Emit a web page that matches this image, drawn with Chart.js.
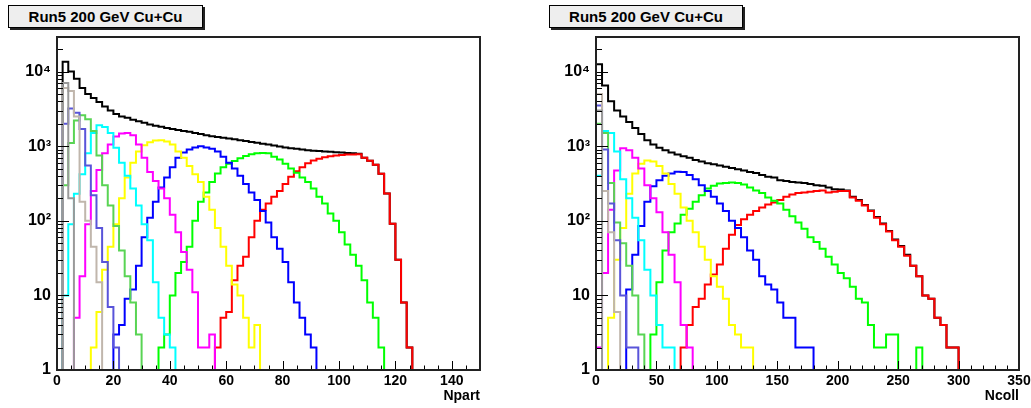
<!DOCTYPE html>
<html>
<head>
<meta charset="utf-8">
<script src="https://cdn.jsdelivr.net/npm/chart.js@4.4.1/dist/chart.umd.min.js"></script>
<style>
  html, body { margin: 0; padding: 0; background: #fff; }
  body { width: 1031px; height: 408px; position: relative; overflow: hidden; font-family: "Liberation Sans", Arial, sans-serif; }
  canvas { position: absolute; top: 0; }
  #npartCanvas { left: 0; }
  #ncollCanvas { left: 515px; }
  .title-box {
    position: absolute; top: 5px; height: 21px;
    background: #eeeeee; border: 1px solid #000; box-shadow: 2px 2px 0 #222;
    font-weight: bold; font-size: 15px; line-height: 21px; text-align: center; color: #000;
  }
</style>
</head>
<body>
<div class="title-box" style="left:8px;width:193px;">Run5 200 GeV Cu+Cu</div>
<div class="title-box" style="left:549px;width:192px;">Run5 200 GeV Cu+Cu</div>
<canvas id="npartCanvas" width="515" height="408"></canvas>
<canvas id="ncollCanvas" width="516" height="408"></canvas>
<script>
// ---- Npart histograms (bin width 2, first bin low edge given by *From) ----
const npartBin = 2;
const npartTotalFrom = 2;
const npartTotal = [13500, 10000, 8000, 6000, 5000, 4400, 3900, 3400, 3000, 2700,
  2500, 2400, 2250, 2150, 2050, 1950, 1880, 1820, 1750, 1700,
  1650, 1600, 1560, 1500, 1450, 1400, 1360, 1330, 1300, 1270,
  1240, 1200, 1170, 1140, 1110, 1080, 1050, 1020, 990, 960,
  940, 920, 900, 880, 870, 860, 850, 840, 830, 820,
  810, 800, 790, 700, 635, 565, 425, 232, 91, 30, 8, 2];
const npartRedFrom = 56;
const npartRed = [2, 5, 6, 16, 25, 33, 60, 100, 140, 170, 210, 250, 310, 390, 460, 520, 590, 640,
  680, 710, 730, 750, 760, 770, 775, 780, 700, 635, 565, 425, 232, 91, 30, 8, 2];
const npartGreenFrom = 36;
const npartGreen = [2, 3, 10, 20, 28, 45, 100, 180, 240, 330, 430, 520, 580, 630, 690, 740, 780, 800,
  810, 800, 720, 660, 580, 500, 440, 380, 330, 270, 210, 170, 125, 100, 70, 48, 35, 25, 16, 8, 5, 2];
const npartBlueFrom = 20;
const npartBlue = [3, 4, 9, 12, 25, 60, 110, 180, 280, 380, 520, 700, 820, 900, 960, 1000, 960, 920,
  850, 720, 600, 500, 400, 310, 240, 190, 135, 95, 60, 42, 28, 15, 8, 5, 3, 2];
const npartYellowFrom = 12;
const npartYellow = [2, 6, 22, 45, 90, 200, 380, 600, 850, 1030, 1130, 1190, 1200, 1150, 1050, 850,
  700, 540, 420, 330, 210, 140, 80, 45, 25, 14, 10, 5, 2, 4];
const npartMagentaFrom = 6;
const npartMagenta = [5, 18, 90, 250, 480, 800, 1050, 1350, 1480, 1500, 1400, 1050, 700, 450, 340,
  270, 200, 120, 70, 38, 22, 11, 2, 2, 3];
const npartCyanFrom = 2;
const npartCyan = [10, 90, 230, 420, 800, 1500, 1900, 1800, 1500, 950, 600, 400, 270, 160, 90, 55, 15, 5, 3, 2];
const npartGreen8From = 2;
const npartGreen8 = [300, 1100, 2200, 2600, 2300, 1600, 750, 300, 160, 85, 40, 18, 8, 3];
const npartSlateFrom = 2;
const npartSlate = [2000, 3200, 2800, 1700, 550, 220, 80, 28, 7, 2];
const npartTanFrom = 2;
const npartTan = [6000, 5500, 2500, 180, 100, 45, 15];
const npartGreyFrom = 2;
const npartGrey = [7000, 200];

// ---- Ncoll histograms (bin width 5) ----
const ncollBin = 5;
const ncollTotalFrom = 0;
const ncollTotal = [12500, 6500, 4000, 3000, 2500, 2100, 1750, 1450, 1200, 1050,
  950, 880, 820, 770, 730, 700, 650, 620, 590, 570,
  550, 530, 510, 490, 470, 450, 435, 410, 390, 380,
  350, 340, 330, 325, 320, 310, 300, 295, 280, 265,
  262, 255, 210, 190, 163, 137, 112, 92, 73, 56,
  46, 35, 25, 18, 10, 9, 5, 4, 2, 2];
const ncollRedFrom = 70;
const ncollRed = [2, 4, 7, 9, 14, 19, 26, 42, 65, 88, 105, 120, 135, 150, 165, 175, 190, 210, 225,
  235, 240, 245, 250, 255, 240, 245, 250, 250, 205, 185, 160, 135, 110, 90, 72, 55, 45, 34, 25, 18,
  10, 9, 5, 4, 2, 2];
const ncollGreenFrom = 45;
const ncollGreen = [3, 15, 40, 70, 92, 120, 145, 180, 220, 270, 295, 315, 320, 325, 320, 305, 280,
  255, 235, 205, 185, 170, 140, 115, 95, 78, 60, 52, 42, 33, 26, 20, 17, 13, 9, 8, 4, 2, 2, 3, 3,
  1, 1, 1, 2];
const ncollBlueFrom = 25;
const ncollBlue = [12, 35, 85, 180, 290, 350, 400, 430, 455, 450, 410, 360, 300, 250, 210, 170, 135,
  100, 80, 60, 40, 30, 18, 14, 12, 8, 5, 5, 2, 2, 2];
const ncollYellowFrom = 10;
const ncollYellow = [5, 30, 80, 230, 430, 580, 640, 620, 540, 430, 310, 230, 150, 100, 70, 45, 30,
  18, 13, 9, 4, 3, 2, 2];
const ncollMagentaFrom = 0;
const ncollMagenta = [2, 20, 140, 470, 940, 880, 700, 500, 300, 200, 130, 70, 35, 15, 4, 2];
const ncollCyanFrom = 0;
const ncollCyan = [400, 1600, 1500, 850, 360, 200, 110, 55, 22, 10, 4, 2, 2];
const ncollGreen8From = 0;
const ncollGreen8 = [2000, 1500, 320, 95, 50, 25, 10, 3];
const ncollSlateFrom = 0;
const ncollSlate = [3500, 900, 170, 55, 10, 2, 2];
const ncollTanFrom = 0;
const ncollTan = [5000, 250, 70, 6];
const ncollGreyFrom = 0;
const ncollGrey = [3000];

// ---- axis ticks ----
const npartTickValues = [0, 5, 10, 15, 20, 25, 30, 35, 40, 45, 50, 55, 60, 65, 70, 75, 80, 85, 90, 95,
  100, 105, 110, 115, 120, 125, 130, 135, 140, 145, 150];
const npartTickLabels = [0, 20, 40, 60, 80, 100, 120, 140];
const ncollTickValues = [0, 10, 20, 30, 40, 50, 60, 70, 80, 90, 100, 110, 120, 130, 140, 150, 160, 170,
  180, 190, 200, 210, 220, 230, 240, 250, 260, 270, 280, 290, 300, 310, 320, 330, 340, 350];
const ncollTickLabels = [0, 50, 100, 150, 200, 250, 300, 350];
const logTickValues = [1, 2, 3, 4, 5, 6, 7, 8, 9, 10, 20, 30, 40, 50, 60, 70, 80, 90,
  100, 200, 300, 400, 500, 600, 700, 800, 900, 1000, 2000, 3000, 4000, 5000, 6000, 7000, 8000, 9000,
  10000, 20000];
const logTickLabels = { 1: '1', 10: '10', 100: '10\u00B2', 1000: '10\u00B3', 10000: '10\u2074' };
const yMax = 29000;

const histColors = ['#999999', '#c0b6ac', '#5954d9', '#59d454', '#00ffff', '#ff00ff',
  '#ffff00', '#0000ff', '#00ff00', '#ff0000', '#000000'];

function histPoints(from, width, counts, xmin, xmax) {
  const pts = [{ x: xmin, y: 1 }];
  counts.forEach((c, i) => pts.push({ x: from + i * width, y: c }));
  pts.push({ x: from + counts.length * width, y: 1 });
  pts.push({ x: xmax, y: 1 });
  return pts;
}

const rootFrame = {
  id: 'rootFrame',
  afterDatasetsDraw(chart) {
    const { ctx, chartArea: a, scales: { x, y } } = chart;
    ctx.save();
    ctx.strokeStyle = '#000';
    ctx.lineWidth = 1;
    ctx.beginPath();
    x.ticks.forEach(t => {
      const px = Math.round(x.getPixelForValue(t.value)) + 0.5;
      const len = t.label ? 9 : 4.5;
      ctx.moveTo(px, a.bottom);
      ctx.lineTo(px, a.bottom - len);
    });
    y.ticks.forEach(t => {
      const py = Math.round(y.getPixelForValue(t.value)) + 0.5;
      const len = logTickLabels[t.value] ? 12 : 6;
      ctx.moveTo(a.left, py);
      ctx.lineTo(a.left + len, py);
    });
    ctx.stroke();
    ctx.lineWidth = 2;
    ctx.strokeStyle = '#222';
    ctx.strokeRect(a.left, a.top, a.right - a.left, a.bottom - a.top);
    ctx.restore();
  }
};

function makeChart(id, cfg) {
  const datasets = cfg.hists.map((h, i) => ({
    data: histPoints(h[0], cfg.bin, h[1], cfg.xmin, cfg.xmax),
    borderColor: histColors[i],
    borderWidth: 2,
    pointRadius: 0,
    fill: false,
    stepped: true,
    tension: 0,
    clip: false
  }));
  const font = { family: '"Liberation Sans", Arial, sans-serif', size: 14, weight: 'bold' };
  const yFont = { family: '"Liberation Sans", Arial, sans-serif', size: 16, weight: 'bold' };
  return new Chart(document.getElementById(id), {
    type: 'line',
    data: { datasets },
    options: {
      responsive: false,
      animation: false,
      devicePixelRatio: 1,
      events: [],
      layout: { autoPadding: false, padding: { left: 0, right: cfg.padRight, top: 37, bottom: 0 } },
      plugins: { legend: { display: false }, tooltip: { enabled: false } },
      scales: {
        x: {
          type: 'linear', min: cfg.xmin, max: cfg.xmax,
          grid: { display: false, drawTicks: false },
          border: { display: false },
          ticks: {
            autoSkip: false, maxRotation: 0, padding: 3, color: '#000', font,
            callback: v => cfg.tickLabels.includes(v) ? String(v) : ''
          },
          afterBuildTicks: s => { s.ticks = cfg.tickValues.map(v => ({ value: v })); },
          afterFit: s => { s.height = 38; s.paddingLeft = 0; s.paddingRight = 0; },
          title: { display: true, text: cfg.title, align: 'end', color: '#000', font, padding: { top: 0, bottom: 3 } }
        },
        y: {
          type: 'logarithmic', min: 1, max: yMax,
          grid: { display: false, drawTicks: false },
          border: { display: false },
          ticks: {
            autoSkip: false, padding: 6, color: '#000', font: yFont,
            callback: v => logTickLabels[v] || ''
          },
          afterBuildTicks: s => { s.ticks = logTickValues.map(v => ({ value: v })); },
          afterFit: s => { s.width = cfg.yWidth; s.paddingTop = 0; s.paddingBottom = 0; }
        }
      }
    },
    plugins: [rootFrame]
  });
}

makeChart('npartCanvas', {
  bin: npartBin, xmin: 0, xmax: 150, padRight: 35, yWidth: 57, title: 'Npart',
  tickValues: npartTickValues, tickLabels: npartTickLabels,
  hists: [
    [npartGreyFrom, npartGrey], [npartTanFrom, npartTan], [npartSlateFrom, npartSlate],
    [npartGreen8From, npartGreen8], [npartCyanFrom, npartCyan], [npartMagentaFrom, npartMagenta],
    [npartYellowFrom, npartYellow], [npartBlueFrom, npartBlue], [npartGreenFrom, npartGreen],
    [npartRedFrom, npartRed], [npartTotalFrom, npartTotal]
  ]
});

makeChart('ncollCanvas', {
  bin: ncollBin, xmin: 0, xmax: 350, padRight: 12, yWidth: 81, title: 'Ncoll',
  tickValues: ncollTickValues, tickLabels: ncollTickLabels,
  hists: [
    [ncollGreyFrom, ncollGrey], [ncollTanFrom, ncollTan], [ncollSlateFrom, ncollSlate],
    [ncollGreen8From, ncollGreen8], [ncollCyanFrom, ncollCyan], [ncollMagentaFrom, ncollMagenta],
    [ncollYellowFrom, ncollYellow], [ncollBlueFrom, ncollBlue], [ncollGreenFrom, ncollGreen],
    [ncollRedFrom, ncollRed], [ncollTotalFrom, ncollTotal]
  ]
});
</script>
</body>
</html>
